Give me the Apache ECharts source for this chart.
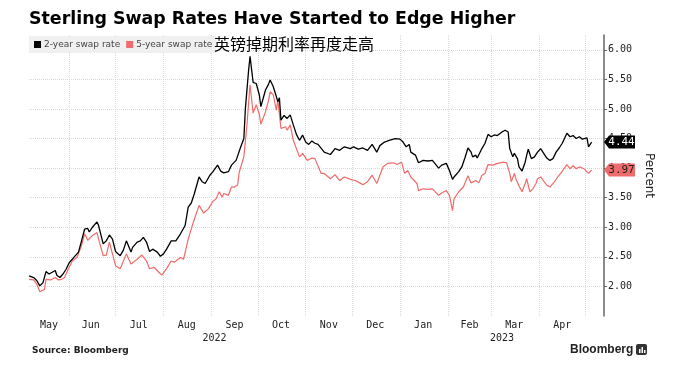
<!DOCTYPE html>
<html>
<head>
<meta charset="utf-8">
<script src="https://cdn.jsdelivr.net/npm/echarts@6/dist/echarts.min.js"></script>
<style>
  html, body { margin: 0; padding: 0; background: #fff; }
  #chart { width: 673px; height: 376px; }
</style>
</head>
<body>
<div id="chart"></div>
<script>
// x values are days counted from 2022-05-01
const days2y = [5, 8, 10, 12, 14, 16, 18, 22, 23, 25, 27, 29, 31, 34, 37, 39, 41, 43, 44, 46, 49, 50, 53, 55, 57, 59, 61, 62, 64, 66, 68, 71, 72, 75, 77, 79, 81, 83, 85, 88, 90, 92, 94, 97, 98, 100, 103, 104, 106, 108, 110, 112, 115, 117, 119, 122, 124, 125, 127, 129, 131, 134, 136, 137, 139, 140, 142, 144, 145, 147, 148, 150, 152, 154, 155, 158, 160, 161, 163, 165, 166, 167, 168, 170, 172, 174, 176, 178, 180, 182, 184, 186, 188, 190, 192, 196, 200, 203, 206, 209, 213, 215, 218, 221, 224, 227, 230, 232, 235, 238, 242, 245, 247, 249, 251, 252, 255, 257, 260, 263, 266, 270, 272, 275, 277, 279, 280, 283, 285, 287, 289, 291, 292, 294, 295, 298, 300, 302, 304, 306, 308, 311, 313, 315, 316, 318, 319, 321, 322, 324, 326, 327, 328, 330, 332, 334, 336, 340, 342, 344, 346, 348, 350, 353, 355, 357, 359, 361, 363, 366, 367, 369]
const swap2y = [2.18, 2.15, 2.10, 2.01, 2.06, 2.25, 2.21, 2.27, 2.19, 2.15, 2.21, 2.29, 2.40, 2.49, 2.58, 2.77, 2.97, 2.98, 2.92, 3.00, 3.09, 3.03, 2.72, 2.77, 2.87, 2.80, 2.59, 2.62, 2.52, 2.61, 2.77, 2.58, 2.66, 2.75, 2.77, 2.83, 2.75, 2.59, 2.63, 2.58, 2.51, 2.55, 2.63, 2.77, 2.80, 2.77, 2.89, 2.92, 3.03, 3.34, 3.41, 3.57, 3.85, 3.77, 3.74, 3.88, 3.94, 3.91, 4.05, 3.95, 3.92, 3.94, 4.05, 4.02, 4.13, 4.16, 4.36, 4.50, 5.01, 5.63, 5.89, 5.45, 5.43, 5.24, 5.04, 5.32, 5.42, 5.49, 5.38, 5.21, 5.12, 5.19, 4.81, 4.89, 4.84, 4.90, 4.73, 4.57, 4.47, 4.56, 4.44, 4.40, 4.46, 4.42, 4.40, 4.27, 4.23, 4.33, 4.30, 4.36, 4.33, 4.36, 4.32, 4.34, 4.30, 4.40, 4.27, 4.38, 4.44, 4.47, 4.50, 4.49, 4.44, 4.36, 4.40, 4.27, 4.22, 4.09, 4.13, 4.12, 4.13, 4.00, 4.05, 4.08, 3.96, 3.81, 3.85, 3.94, 4.02, 4.17, 4.34, 4.27, 4.19, 4.22, 4.17, 4.33, 4.42, 4.57, 4.53, 4.56, 4.55, 4.61, 4.64, 4.61, 4.33, 4.19, 4.25, 4.16, 4.02, 3.95, 4.10, 4.22, 4.32, 4.16, 4.19, 4.27, 4.33, 4.17, 4.13, 4.16, 4.27, 4.34, 4.42, 4.59, 4.53, 4.55, 4.50, 4.53, 4.49, 4.51, 4.36, 4.44]

const days5y = [5, 8, 10, 12, 15, 16, 19, 22, 24, 26, 28, 30, 33, 36, 39, 41, 43, 46, 49, 50, 53, 55, 57, 61, 64, 68, 71, 75, 78, 81, 83, 86, 89, 91, 94, 97, 99, 103, 105, 108, 111, 115, 118, 121, 124, 126, 128, 130, 131, 134, 136, 138, 140, 141, 144, 146, 148, 150, 152, 154, 155, 158, 160, 161, 163, 165, 166, 168, 171, 172, 174, 176, 180, 182, 185, 188, 190, 194, 196, 200, 203, 206, 209, 213, 216, 219, 221, 224, 227, 230, 232, 234, 237, 241, 243, 246, 248, 250, 252, 256, 257, 260, 263, 266, 270, 272, 275, 277, 279, 280, 283, 286, 289, 291, 292, 294, 296, 298, 300, 302, 305, 308, 312, 314, 316, 317, 319, 320, 322, 324, 326, 327, 329, 331, 333, 334, 336, 340, 342, 345, 347, 349, 353, 355, 357, 359, 361, 364, 367, 369]
const swap5y = [2.12, 2.11, 2.04, 1.91, 1.95, 2.12, 2.11, 2.15, 2.11, 2.12, 2.15, 2.27, 2.43, 2.49, 2.69, 2.89, 2.78, 2.86, 2.91, 2.80, 2.52, 2.53, 2.75, 2.35, 2.30, 2.55, 2.38, 2.46, 2.53, 2.43, 2.30, 2.32, 2.24, 2.19, 2.30, 2.43, 2.41, 2.49, 2.46, 2.80, 3.06, 3.37, 3.24, 3.31, 3.44, 3.48, 3.60, 3.51, 3.57, 3.54, 3.68, 3.68, 3.72, 3.93, 4.19, 4.73, 5.41, 4.93, 5.07, 4.91, 4.74, 4.95, 5.15, 5.29, 5.24, 4.98, 5.15, 4.67, 4.70, 4.64, 4.73, 4.47, 4.19, 4.25, 4.13, 4.17, 4.16, 3.91, 3.91, 3.82, 3.89, 3.79, 3.85, 3.81, 3.79, 3.75, 3.72, 3.77, 3.88, 3.74, 3.88, 4.02, 4.08, 4.09, 4.06, 4.10, 3.91, 3.96, 3.85, 3.74, 3.62, 3.65, 3.64, 3.65, 3.54, 3.58, 3.62, 3.54, 3.28, 3.48, 3.60, 3.68, 3.87, 3.75, 3.74, 3.79, 3.75, 3.88, 3.91, 4.06, 4.05, 4.08, 4.10, 4.09, 3.91, 3.77, 3.91, 3.82, 3.70, 3.60, 3.74, 3.82, 3.60, 3.65, 3.74, 3.82, 3.85, 3.71, 3.68, 3.77, 3.85, 3.91, 4.06, 3.99, 4.04, 3.99, 4.02, 3.99, 3.91, 3.97]

// month boundaries (gridlines) and label positions, in days from 2022-05-01
const monthStarts = [31, 61, 92, 123, 153, 184, 214, 245, 276, 304, 335, 365]
const monthLabelDays = [18, 45, 76, 107, 138, 168, 199, 229, 260, 290, 319, 350]
const monthNames = ['May', 'Jun', 'Jul', 'Aug', 'Sep', 'Oct', 'Nov', 'Dec', 'Jan', 'Feb', 'Mar', 'Apr']
const yearLabelDays = [125, 311]
const yearNames = ['2022', '2023']
const yTicks = [2, 2.5, 3, 3.5, 4, 4.5, 5, 5.5, 6]

const X_MIN = 5
const X_MAX = 377

const MONO = "'DejaVu Sans Mono', monospace"
const SANS = "'DejaVu Sans', sans-serif"

const zip = (xs, ys) => xs.map((x, i) => [x, ys[i]])

// end-of-line value tag sitting on the right axis
const endTag = (value, fill, textColor) => ({
  symbol: 'path://M0,6 L5,0 L31,0 L31,12 L5,12 Z',
  symbolSize: [31, 13],
  symbolOffset: [15.5, 0],
  silent: true,
  label: {
    show: true,
    position: 'inside',
    offset: [2, 0],
    color: textColor,
    fontFamily: MONO,
    fontSize: 11,
    formatter: () => value.toFixed(2)
  },
  itemStyle: { color: fill },
  data: [{ coord: [X_MAX, value] }]
})

const chart = echarts.init(document.getElementById('chart'), null, { renderer: 'canvas' })

const last2y = swap2y[swap2y.length - 1]
const last5y = swap5y[swap5y.length - 1]

const option = {
  animation: false,
  backgroundColor: '#fff',
  title: [
    {
      text: 'Sterling Swap Rates Have Started to Edge Higher',
      left: 29,
      top: 11,
      padding: 0,
      textStyle: { fontFamily: SANS, fontWeight: 'bold', fontSize: 17.4, color: '#000' }
    },
    {
      text: '英镑掉期利率再度走高',
      left: 214,
      top: 36,
      padding: 0,
      textStyle: { fontFamily: "'Noto Sans CJK SC', sans-serif", fontWeight: 'normal', fontSize: 16, color: '#000' }
    }
  ],
  legend: {
    left: 29,
    top: 36,
    padding: [4, 4, 4, 5],
    backgroundColor: '#f0f0f0',
    itemWidth: 7,
    itemHeight: 7,
    itemGap: 6,
    icon: 'rect',
    selectedMode: false,
    textStyle: { fontFamily: SANS, fontSize: 9, color: '#444', padding: [0, 0, 0, -2] },
    data: ['2-year swap rate', '5-year swap rate']
  },
  grid: { left: 29, right: 69, top: 35, bottom: 60, containLabel: false },
  xAxis: [
    {
      type: 'value',
      min: X_MIN,
      max: X_MAX,
      axisLine: { show: false },
      axisTick: { show: false, customValues: monthStarts },
      splitLine: { show: true, lineStyle: { color: '#d9d9d9', type: 'dotted', width: 1 } },
      axisLabel: {
        customValues: monthLabelDays,
        margin: 4,
        fontFamily: MONO,
        fontSize: 10,
        color: '#222',
        formatter: (v) => monthNames[monthLabelDays.indexOf(v)]
      }
    },
    {
      type: 'value',
      position: 'bottom',
      offset: 13,
      min: X_MIN,
      max: X_MAX,
      axisLine: { show: false },
      axisTick: { show: false, customValues: yearLabelDays },
      splitLine: { show: false },
      axisLabel: {
        customValues: yearLabelDays,
        margin: 4,
        fontFamily: MONO,
        fontSize: 10,
        color: '#222',
        formatter: (v) => yearNames[yearLabelDays.indexOf(v)]
      }
    }
  ],
  yAxis: {
    type: 'value',
    position: 'right',
    min: 1.5,
    max: 6.25,
    name: 'Percent',
    nameLocation: 'middle',
    nameRotate: -90,
    nameGap: 36,
    nameTextStyle: { fontFamily: SANS, fontSize: 12, color: '#222' },
    axisLine: { show: true, lineStyle: { color: '#666', width: 1.5 } },
    axisTick: { show: true, length: 3, customValues: yTicks, lineStyle: { color: '#666' } },
    splitLine: { show: true, lineStyle: { color: '#d9d9d9', type: 'dotted', width: 1 } },
    axisLabel: {
      customValues: yTicks,
      margin: 4,
      fontFamily: MONO,
      fontSize: 10,
      color: '#222',
      formatter: (v) => v.toFixed(2)
    }
  },
  series: [
    {
      name: '2-year swap rate',
      type: 'line',
      data: zip(days2y, swap2y),
      showSymbol: false,
      symbol: 'none',
      color: '#000',
      lineStyle: { width: 1.3, color: '#000' },
      z: 3,
      markPoint: endTag(last2y, '#000', '#fff')
    },
    {
      name: '5-year swap rate',
      type: 'line',
      data: zip(days5y, swap5y),
      showSymbol: false,
      symbol: 'none',
      color: '#f06b6b',
      lineStyle: { width: 1.2, color: '#f06b6b' },
      z: 2,
      markPoint: endTag(last5y, '#f06b6b', '#222')
    }
  ],
  graphic: [
    {
      type: 'text',
      left: 32,
      top: 346,
      style: { text: 'Source: Bloomberg', fontFamily: SANS, fontWeight: 'bold', fontSize: 9, fill: '#222' }
    },
    {
      type: 'text',
      left: 570,
      top: 344,
      style: { text: 'Bloomberg', fontFamily: "'Liberation Sans', sans-serif", fontWeight: 'bold', fontSize: 12, fill: '#222' }
    },
    {
      type: 'group',
      left: 636,
      top: 344,
      children: [
        { type: 'rect', shape: { x: 0, y: 0, width: 11, height: 11, r: 2 }, style: { fill: '#333' } },
        { type: 'rect', shape: { x: 3, y: 5, width: 1.5, height: 4 }, style: { fill: '#fff' } },
        { type: 'rect', shape: { x: 5.5, y: 3, width: 1.5, height: 6 }, style: { fill: '#fff' } },
        { type: 'rect', shape: { x: 8, y: 6, width: 1.5, height: 3 }, style: { fill: '#fff' } }
      ]
    }
  ]
}

chart.setOption(option)
</script>
</body>
</html>
